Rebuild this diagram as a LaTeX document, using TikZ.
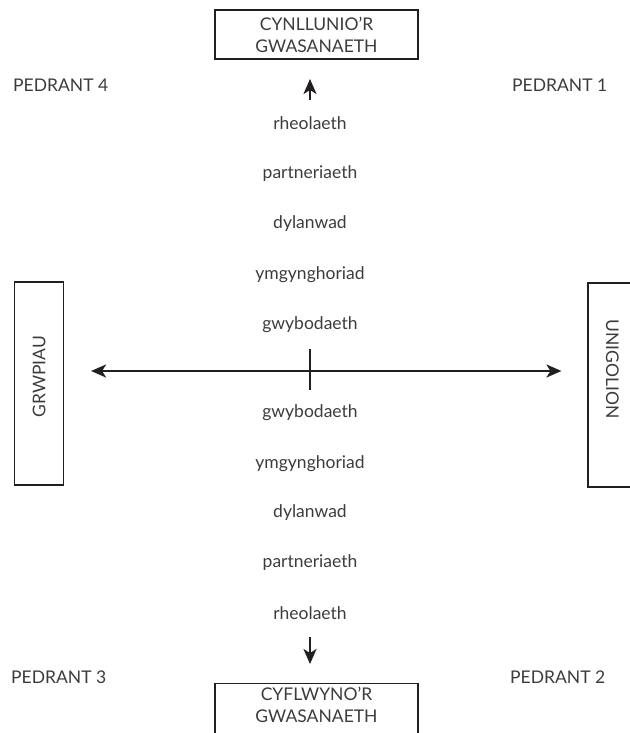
\documentclass[tikz,border=0pt]{standalone}
\usepackage{fontspec}
\setmainfont{Lato}
\usepackage{xcolor}
\definecolor{qdInk}{RGB}{35,31,32}
\definecolor{qdText}{RGB}{60,60,60}
\usepackage{tikz}
\usetikzlibrary{positioning,arrows.meta}

\begin{document}
\begin{tikzpicture}[x=1pt,y=-1pt,
  qtip/.tip={Stealth[length=15pt,width=13pt,inset=4pt]},
  b/.style={draw=qdInk,line width=1.1pt,align=center,text=qdText,inner sep=0pt,font=\fontsize{17.5}{22}\selectfont},
  w/.style={text=qdText,inner sep=0pt,font=\fontsize{17.5}{20}\selectfont},
  q/.style={w,anchor=west},
  a/.style={-qtip,qdInk,line width=2.2pt}]
  \useasboundingbox (0,0) rectangle (629,733);
  % service boxes, top and bottom
  \node[b,minimum width=203pt,minimum height=49pt] (plan) at (316.5,34.5) {CYNLLUNIO'R\\GWASANAETH};
  \node[b,minimum width=203pt,minimum height=60pt,anchor=north,text depth=17pt] (deliv) at (316.5,683) {CYFLWYNO'R\\GWASANAETH};
  % side boxes
  \node[b,rotate=90,minimum width=203pt,minimum height=49pt] (grp) at (39,383.5) {\hspace*{14pt}GRWPIAU};
  \node[b,rotate=-90,minimum width=204pt,minimum height=49pt] (indiv) at (612.5,385) {UNIGOLION\hspace*{32pt}};
  % quadrants
  \node[q] (q4) at (13,85) {PEDRANT 4};
  \node[q] (q1) at (512,85) {PEDRANT 1};
  \node[q] (q3) at (11,677) {PEDRANT 3};
  \node[q] (q2) at (510,677) {PEDRANT 2};
  % upper scale
  \node[w] (u1) at (310,123) {rheolaeth};
  \node[w] (u2) at (310,174) {partneriaeth};
  \node[w] (u3) at (310,224) {dylanwad};
  \node[w] (u4) at (310,275) {ymgynghoriad};
  \node[w] (u5) at (310,325) {gwybodaeth};
  % lower scale
  \node[w] (d1) at (310,413) {gwybodaeth};
  \node[w] (d2) at (310,464) {ymgynghoriad};
  \node[w] (d3) at (310,513) {dylanwad};
  \node[w] (d4) at (310,563) {partneriaeth};
  \node[w] (d5) at (310,613) {rheolaeth};
  % axes
  \coordinate (ctr) at (310,371);
  \coordinate (upa) at (310,100);
  \coordinate (upb) at (310,79);
  \coordinate (dna) at (310,637);
  \coordinate (dnb) at (310,664);
  \coordinate (tkt) at (310,349);
  \coordinate (tkb) at (310,390);
  \draw[a] (upa) -- (upb);
  \draw[a] (dna) -- (dnb);
  \draw[a,qtip-qtip] ([xshift=27pt]grp.south |- ctr) -- ([xshift=-26pt]indiv.south |- ctr);
  \draw[qdInk,line width=1.3pt] (tkt) -- (tkb);
\end{tikzpicture}
\end{document}
